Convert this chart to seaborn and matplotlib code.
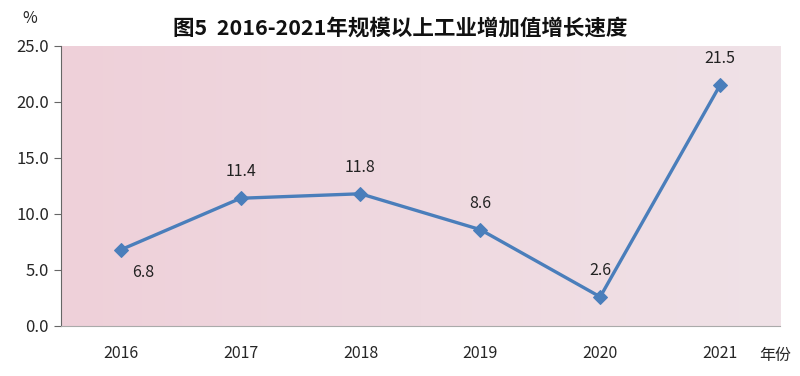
import numpy as np
import pandas as pd
from matplotlib import pyplot as plt
from matplotlib.colors import LinearSegmentedColormap
import seaborn as sns

# 数据
years = ['2016', '2017', '2018', '2019', '2020', '2021']
growth = [6.8, 11.4, 11.8, 8.6, 2.6, 21.5]
label_pos = ['below', 'above', 'above', 'above', 'above', 'above']

df = pd.DataFrame({'year': years, 'growth': growth})

sns.set_style('white')
plt.rcParams['font.family'] = ['Noto Sans CJK SC', 'DejaVu Sans']

fig = plt.figure(figsize=(8, 3.76), dpi=100)
ax = fig.add_axes([0.076, 0.133, 0.899, 0.745])

# 渐变背景
bg = LinearSegmentedColormap.from_list('bg', ['#eed0d9', '#f0e2e7'])
grad = np.linspace(0, 1, 256).reshape(1, -1)
ax.imshow(grad, cmap=bg, aspect='auto', extent=[-0.5, 5.5, 0, 25], zorder=0)

sns.lineplot(data=df, x='year', y='growth', ax=ax, color='#4a7ebb', linewidth=2.4,
             marker='D', markersize=7, markeredgecolor='#4a7ebb', zorder=3)

for i, (v, p) in enumerate(zip(growth, label_pos)):
    if p == 'below':
        ax.annotate(f'{v:.1f}', (i, v), xytext=(16, -16), textcoords='offset points',
                    ha='center', va='center', fontsize=11.5, color='#222222')
    else:
        ax.annotate(f'{v:.1f}', (i, v), xytext=(0, 19), textcoords='offset points',
                    ha='center', va='center', fontsize=11.5, color='#222222')

ax.set_xlim(-0.5, 5.5)
ax.set_ylim(0, 25)
ax.set_yticks(np.arange(0, 25.1, 5))
ax.set_yticklabels([f'{t:.1f}' for t in np.arange(0, 25.1, 5)], fontsize=12)
ax.set_xticks(range(len(years)))
ax.set_xticklabels(years, fontsize=11.5)
ax.set_xticks(np.arange(-0.5, 5.6, 1), minor=True)
ax.tick_params(axis='x', which='major', length=0, pad=14)
ax.tick_params(axis='x', which='minor', length=5, color='#999999', direction='out')
ax.tick_params(axis='y', length=5, color='#666666', direction='out', left=True)
ax.set_xlabel('')
ax.set_ylabel('')

for s in ['top', 'right']:
    ax.spines[s].set_visible(False)
ax.spines['left'].set_color('#666666')
ax.spines['bottom'].set_color('#aaaaaa')

fig.text(0.5, 0.925, '图5  2016-2021年规模以上工业增加值增长速度', ha='center', va='center',
         fontsize=15.5, fontweight='bold', color='#111111')
fig.text(0.037, 0.95, '%', ha='center', va='center', fontsize=11.5)
fig.text(0.969, 0.055, '年份', ha='center', va='center', fontsize=11.5)

plt.savefig('out.png', dpi=100)
